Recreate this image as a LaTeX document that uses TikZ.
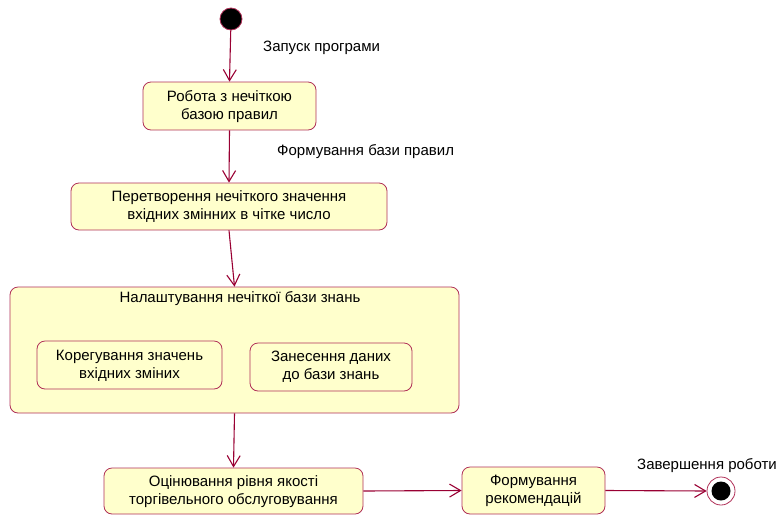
\documentclass[tikz,border=0pt]{standalone}
\usepackage{fontspec}
\setmainfont{Liberation Sans}
\usetikzlibrary{arrows.meta}
\definecolor{bord}{RGB}{176,48,88}
\definecolor{arrc}{RGB}{153,0,51}
\definecolor{fillc}{RGB}{255,255,204}
\begin{document}
\begin{tikzpicture}[x=1pt,y=1pt,
  every node/.style={font=\fontsize{15}{18}\selectfont},
  state/.style={draw=bord, fill=fillc, rounded corners=8pt, align=center, inner sep=0pt, line width=0.8pt},
  conn/.style={draw=arrc, line width=1.1pt, -{Straight Barb[length=11pt,width=13pt,line width=1.1pt]}},
  lbl/.style={anchor=west, inner sep=0pt}]
\useasboundingbox (0,0) rectangle (777,-515);
\node[circle, fill=black, draw=bord, line width=0.8pt, minimum size=22pt, inner sep=0pt] (start) at (231,-19) {};
\node[state, minimum width=173pt, minimum height=48pt, text depth=2pt] (b1) at (229.5,-106) {Робота з нечіткою\\базою правил};
\node[state, minimum width=316pt, minimum height=47pt, text depth=2pt] (b2) at (229,-206.5) {Перетворення нечіткого значення\\вхідних змінних в чітке число};
\node[state, minimum width=449pt, minimum height=126pt] (big) at (234.5,-350) {};
\node[inner sep=0pt] (bigt) at (240,-299) {Налаштування нечіткої бази знань};
\node[state, minimum width=185pt, minimum height=48pt, text depth=2pt] (i1) at (129.5,-365) {Корегування значень\\вхідних зміних};
\node[state, minimum width=162pt, minimum height=48pt] (i2) at (331,-367) {Занесення даних\\до бази знань};
\node[state, minimum width=259pt, minimum height=46pt, text depth=2pt] (b5) at (233.5,-491) {Оцінювання рівня якості\\торгівельного обслуговування};
\node[state, minimum width=143pt, minimum height=47pt, text depth=2pt] (b6) at (533.5,-490.5) {Формування\\рекомендацій};
\node[circle, draw=bord, fill=white, line width=0.8pt, minimum size=28pt, inner sep=0pt] (end) at (721,-491) {};
\node[circle, fill=black, minimum size=19pt, inner sep=0pt] (endin) at (end) {};
\draw[conn] (start) -- (b1.north);
\draw[conn] (b1.south) -- (b2.north);
\draw[conn] (b2.south) -- (big.north);
\draw[conn] (big.south) -- (b5.north);
\draw[conn] (b5.east) -- (b6.west);
\draw[conn] (b6.east) -- (end.west);
\node[lbl] (l1) at (263,-47.5) {Запуск програми};
\node[lbl] (l2) at (277,-151.5) {Формування бази правил};
\node[lbl] (l3) at (637,-465.5) {Завершення роботи};
\end{tikzpicture}
\end{document}
